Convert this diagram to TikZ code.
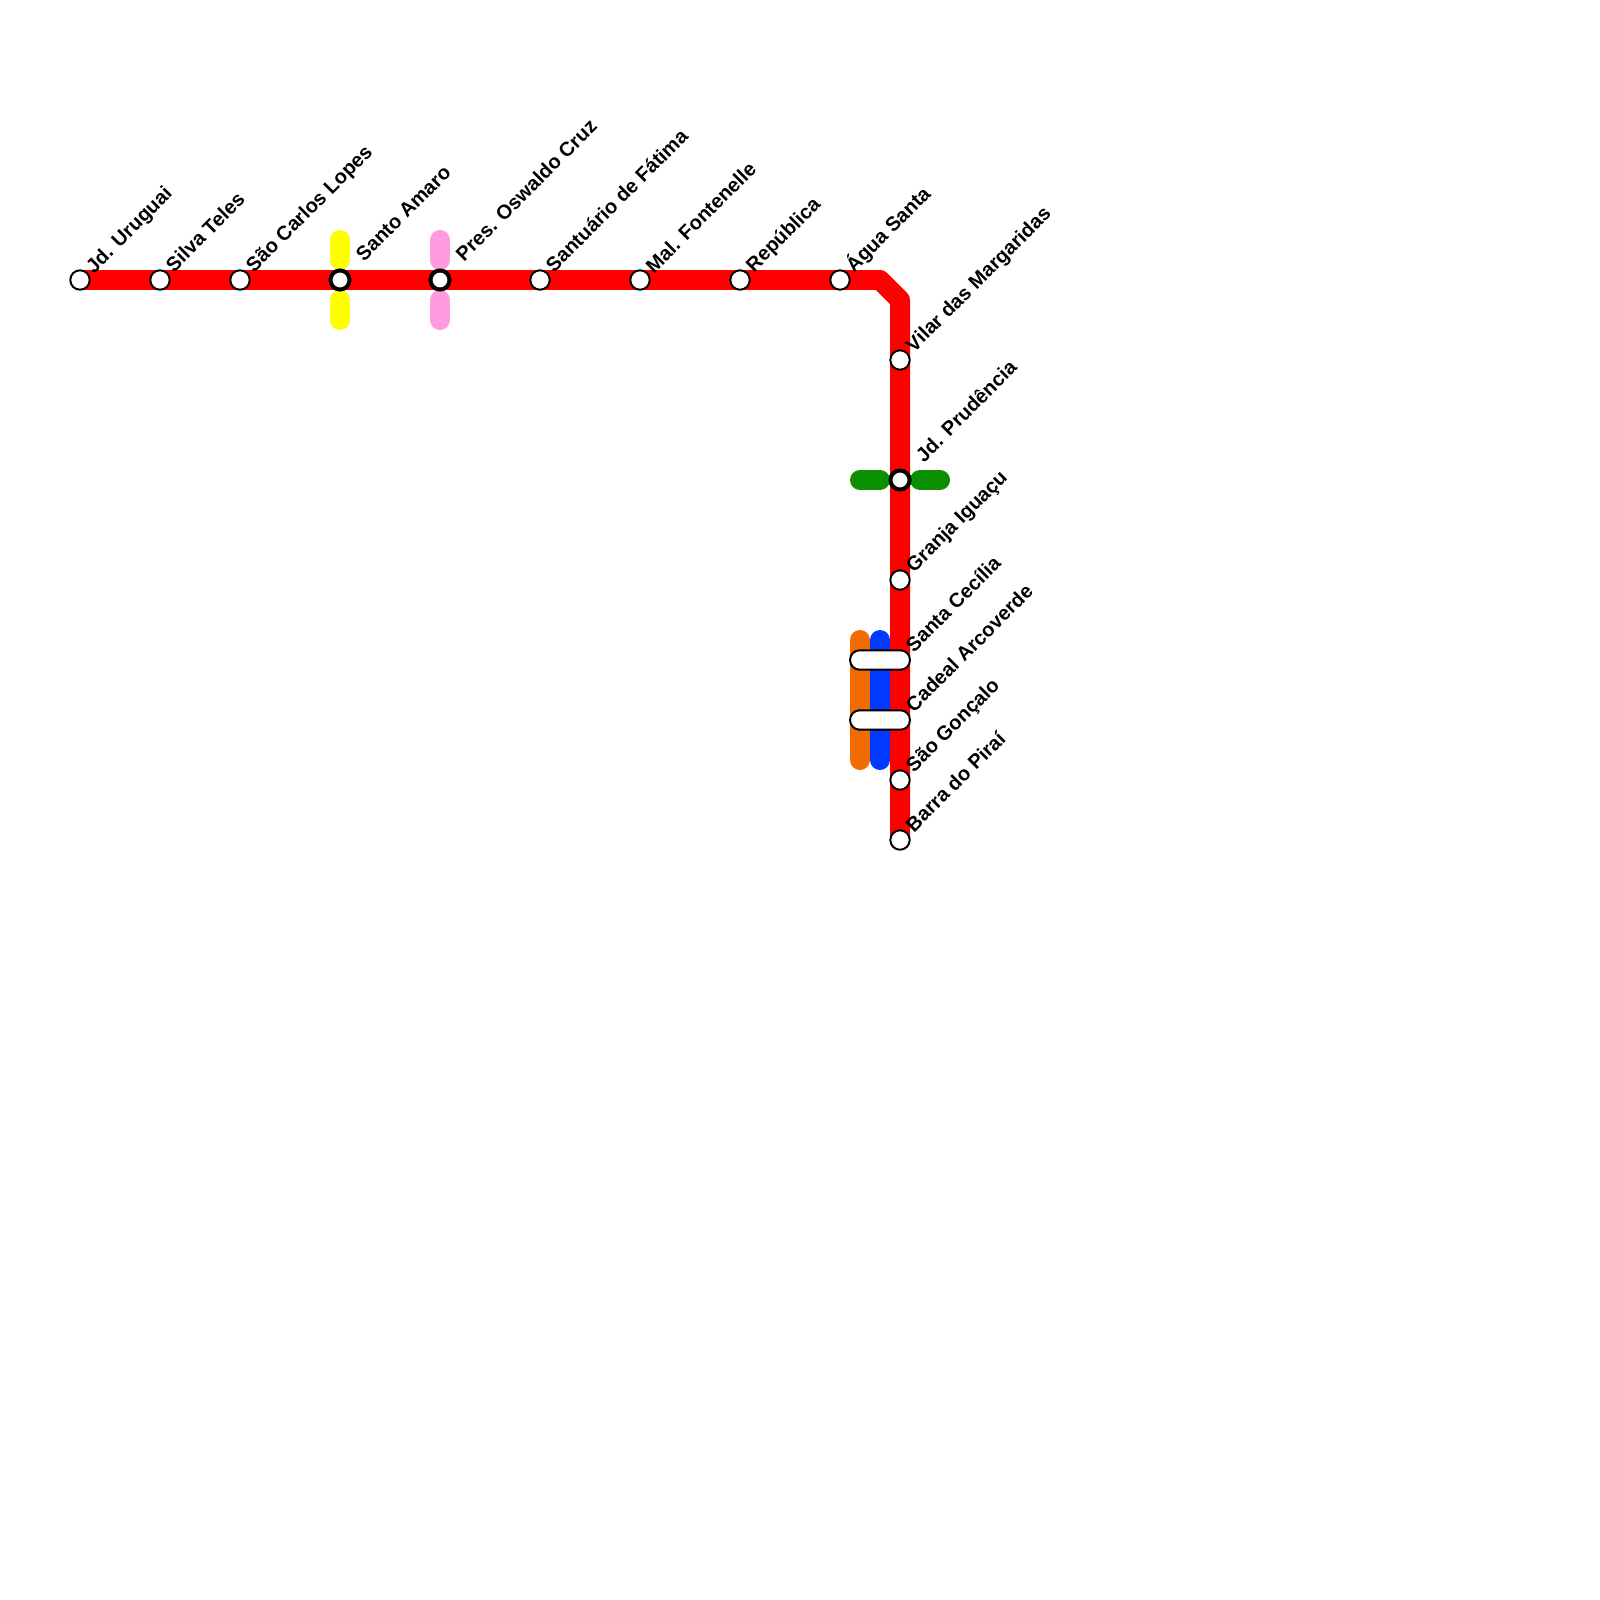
\documentclass[tikz,border=0pt]{standalone}
\usepackage{fontspec}
\setmainfont{Liberation Sans}
\tikzset{
  route/.style={line width=7.11pt,line join=round},
  stub/.style={route,line cap=round},
  stn/.style={circle,draw=black,fill=white,line width=0.7pt,minimum size=6.9pt,inner sep=0pt,outer sep=0pt},
  hub/.style={circle,draw=black,fill=white,line width=1.42pt,minimum size=6.8pt,inner sep=0pt,outer sep=0pt},
  bar/.style={rectangle,rounded corners=3.4pt,draw=black,fill=white,line width=0.7pt,minimum width=21.3pt,minimum height=6.9pt,inner sep=0pt,outer sep=0pt},
  lbl/.style={anchor=base west,rotate=45,inner sep=0pt,outer sep=0pt,font=\fontsize{7.11pt}{8pt}\selectfont\bfseries,text=black}
}
\definecolor{lred}{HTML}{FF0000}
\definecolor{lorange}{HTML}{F26B00}
\definecolor{lblue}{HTML}{0039FF}
\definecolor{lyellow}{HTML}{FFFF00}
\definecolor{lpink}{HTML}{FF99E0}
\definecolor{lgreen}{HTML}{0B8F00}
\begin{document}
\begin{tikzpicture}[x=0.0125cm,y=-0.0125cm]
\useasboundingbox (0,0) rectangle (1600,1600);
\coordinate (c1) at (880,280);
\coordinate (c2) at (900,300);
\coordinate (o1) at (860,640);
\coordinate (o2) at (860,760);
\coordinate (b1) at (880,640);
\coordinate (b2) at (880,760);
\coordinate (y1) at (340,240);
\coordinate (y2) at (340,260);
\coordinate (y3) at (340,300);
\coordinate (y4) at (340,320);
\coordinate (p1) at (440,240);
\coordinate (p2) at (440,260);
\coordinate (p3) at (440,300);
\coordinate (p4) at (440,320);
\coordinate (g1) at (860,480);
\coordinate (g2) at (880,480);
\coordinate (g3) at (920,480);
\coordinate (g4) at (940,480);
% stations
\path (80,280) coordinate (Ajd) (160,280) coordinate (Asilva) (240,280) coordinate (Asao)
  (340,280) coordinate (Asanto) (440,280) coordinate (Apres) (540,280) coordinate (Asf)
  (640,280) coordinate (Amal) (740,280) coordinate (Arep) (840,280) coordinate (Aagua)
  (900,360) coordinate (Avilar) (900,480) coordinate (Apru) (900,580) coordinate (Agra)
  (900,780) coordinate (Ago) (900,840) coordinate (Abar);
% lines
\draw[stub,lorange] (o1) -- (o2);
\draw[stub,lblue] (b1) -- (b2);
\draw[stub,lyellow] (y1) -- (y2);
\draw[stub,lyellow] (y3) -- (y4);
\draw[stub,lpink] (p1) -- (p2);
\draw[stub,lpink] (p3) -- (p4);
\draw[stub,lgreen] (g1) -- (g2);
\draw[stub,lgreen] (g3) -- (g4);
\draw[route,lred] (Ajd) -- (c1) -- (c2) -- (Abar);
% markers
\node[stn] (n1) at (Ajd) {};
\node[stn] (n2) at (Asilva) {};
\node[stn] (n3) at (Asao) {};
\node[hub] (n4) at (Asanto) {};
\node[hub] (n5) at (Apres) {};
\node[stn] (n6) at (Asf) {};
\node[stn] (n7) at (Amal) {};
\node[stn] (n8) at (Arep) {};
\node[stn] (n9) at (Aagua) {};
\node[stn] (n10) at (Avilar) {};
\node[hub] (n11) at (Apru) {};
\node[stn] (n12) at (Agra) {};
\node[bar] (n13) at (880,660) {};
\node[bar] (n14) at (880,720) {};
\node[stn] (n15) at (Ago) {};
\node[stn] (n16) at (Abar) {};
% labels
\node[lbl] (t1) at (94,274) {Jd. Uruguai};
\node[lbl] (t2) at (174,273) {Silva Teles};
\node[lbl] (t3) at (254,273) {São Carlos Lopes};
\node[lbl] (t4) at (364,262) {Santo Amaro};
\node[lbl] (t5) at (464,262) {Pres. Oswaldo Cruz};
\node[lbl] (t6) at (554,273) {Santuário de Fátima};
\node[lbl] (t7) at (654,274) {Mal. Fontenelle};
\node[lbl] (t8) at (754,273) {República};
\node[lbl] (t9) at (854,273) {Água Santa};
\node[lbl] (t10) at (914,353) {Vilar das Margaridas};
\node[lbl] (t11) at (924,463) {Jd. Prudência};
\node[lbl] (t12) at (914,573) {Granja Iguaçu};
\node[lbl] (t13) at (914,653) {Santa Cecília};
\node[lbl] (t14) at (914,713) {Cadeal Arcoverde};
\node[lbl] (t15) at (914,773) {São Gonçalo};
\node[lbl] (t16) at (914,833) {Barra do Piraí};
\end{tikzpicture}
\end{document}
